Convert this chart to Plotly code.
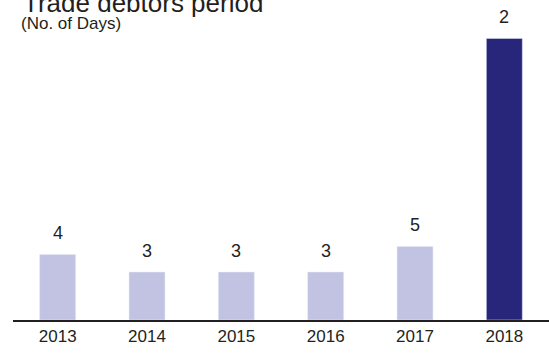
import plotly.graph_objects as go

years = ["2013", "2014", "2015", "2016", "2017", "2018"]
values = [4.1, 3.0, 3.0, 3.0, 4.6, 17.6]
labels = ["4", "3", "3", "3", "5", "2"]
colors = ["#c2c3e2", "#c2c3e2", "#c2c3e2", "#c2c3e2", "#c2c3e2", "#28267a"]

FONT = "Liberation Sans, Arial, sans-serif"
TXT = "#231f20"

fig = go.Figure()
fig.add_trace(go.Bar(x=years, y=values, marker_color=colors, hoverinfo="skip"))

# category axis: annotation x given as category index
for i, (v, lab) in enumerate(zip(values, labels)):
    fig.add_annotation(x=i, y=v, text=lab, showarrow=False, yanchor="bottom",
                       yshift=9, font=dict(family=FONT, size=18, color=TXT))

fig.add_annotation(xref="paper", yref="paper", x=0.015, y=1.0, xanchor="left", yanchor="bottom",
                   text="Trade debtors period", showarrow=False, yshift=0,
                   font=dict(family=FONT, size=26, color=TXT))
fig.add_annotation(xref="paper", yref="paper", x=0.011, y=1.0, xanchor="left", yanchor="middle",
                   text="(No. of Days)", showarrow=False, yshift=-3,
                   font=dict(family=FONT, size=17, color=TXT))

fig.update_layout(
    width=549, height=355,
    margin=dict(l=13, r=0, t=20, b=35),
    paper_bgcolor="white", plot_bgcolor="white",
    bargap=0.597, showlegend=False,
    xaxis=dict(type="category", range=[-0.5, 5.5], showline=True, linecolor=TXT, linewidth=1.5,
               showgrid=False, zeroline=False, ticks="",
               tickfont=dict(family=FONT, size=17, color=TXT)),
    yaxis=dict(visible=False, range=[0, 18.75]),
)

fig.write_html("out.html")
